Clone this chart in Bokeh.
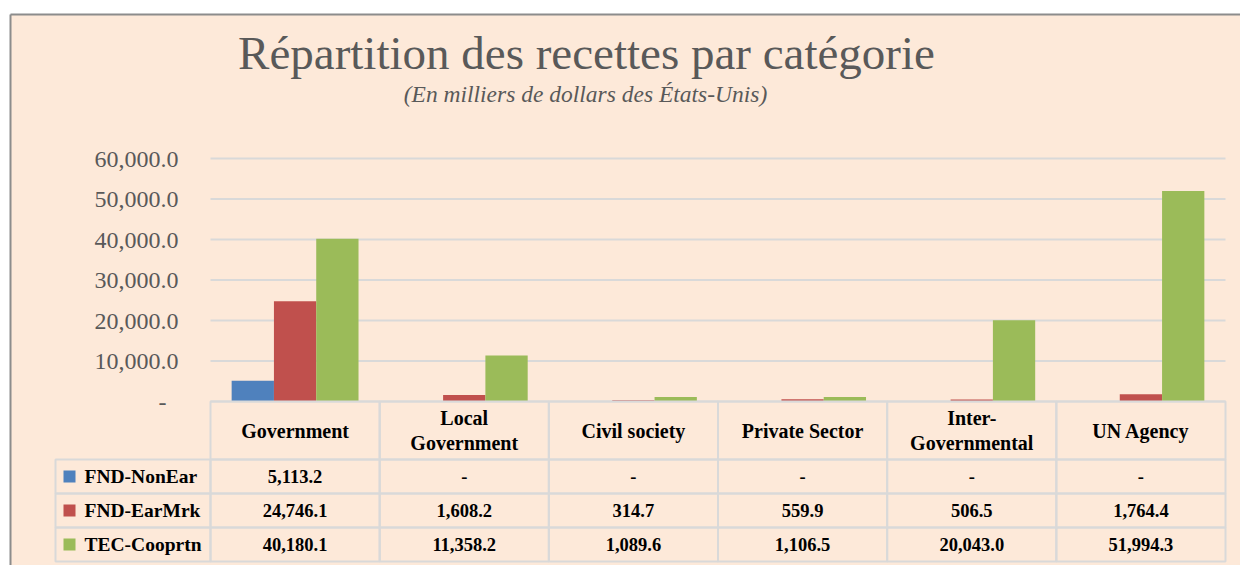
from bokeh.plotting import figure
from bokeh.models import Range1d, FixedTicker, LinearAxis
from bokeh.core.properties import value
from bokeh.embed import file_html
from bokeh.resources import INLINE

# ---------------- data ----------------
categories = ["Government", "Local Government", "Civil society",
              "Private Sector", "Inter-Governmental", "UN Agency"]
category_labels = ["Government", "Local\nGovernment", "Civil society",
                   "Private Sector", "Inter-\nGovernmental", "UN Agency"]
series_names = ["FND-NonEar", "FND-EarMrk", "TEC-Cooprtn"]
fnd_nonear = [5113.2, 0.0, 0.0, 0.0, 0.0, 0.0]
fnd_earmrk = [24746.1, 1608.2, 314.7, 559.9, 506.5, 1764.4]
tec_cooprtn = [40180.1, 11358.2, 1089.6, 1106.5, 20043.0, 51994.3]
y_ticks = [0, 10000, 20000, 30000, 40000, 50000, 60000]
y_tick_labels = ["-\u2007", "10,000.0", "20,000.0", "30,000.0",
                 "40,000.0", "50,000.0", "60,000.0"]
title_text = "Répartition des recettes par catégorie"
subtitle_text = "(En milliers de dollars des États-Unis)"

# ---------------- styles ----------------
series_values = [fnd_nonear, fnd_earmrk, tec_cooprtn]
colors = ["#4F81BD", "#C0504D", "#9BBB59"]
PEACH = "#FDE9D9"
GRID = "#D9D9D9"
BORDER = "#8C8C8C"
GREY_TXT = "#595959"
FONT = "Liberation Serif"

# ---------------- layout (page pixels) ----------------
FIG_W, FIG_H = 1240, 565
FRAME_L, FRAME_T = 10, 14
FRAME_R, FRAME_B = FIG_W, FIG_H
COL0 = 210.0
COLW = (1225.0 - COL0) / len(categories)
ZERO_Y, TOP_Y = 401.0, 158.0
U = 60000.0 / (ZERO_Y - TOP_Y)
ROW_EDGES = [401.0, 459.0, 493.0, 527.0, 561.0]
LEG_L = 55.0


def dx(px):
    return (px - COL0) / COLW - 0.5


def dy(py):
    return (ZERO_Y - py) * U


p = figure(width=FIG_W, height=FIG_H,
           x_range=Range1d(dx(FRAME_L), dx(FRAME_R)),
           y_range=Range1d(dy(FRAME_B), dy(FRAME_T)),
           output_backend="svg", toolbar_location=None,
           x_axis_location=None,
           min_border_left=FRAME_L, min_border_top=FRAME_T,
           min_border_right=0, min_border_bottom=0,
           background_fill_color=PEACH, border_fill_color="white",
           outline_line_color=None)
p.grid.visible = False

# value axis drawn at the left edge of the category area
ax = p.yaxis[0]
ax.ticker = FixedTicker(ticks=y_ticks)
ax.major_label_overrides = {t: l for t, l in zip(y_ticks, y_tick_labels)}
ax.fixed_location = -0.5
ax.major_label_standoff = int(COL0 - 178)
ax.axis_line_color = None
ax.major_tick_line_color = None
ax.minor_tick_line_color = None
ax.major_tick_out = 0
ax.minor_tick_out = 0
ax.major_label_text_font = FONT
ax.major_label_text_font_size = "24px"
ax.major_label_text_color = GREY_TXT

# panel border (left and top) as plain axis lines
for loc in ("left", "above"):
    b = LinearAxis(ticker=FixedTicker(ticks=[]), axis_line_color=BORDER,
                   axis_line_width=2, major_tick_line_color=None,
                   minor_tick_line_color=None, major_label_text_color=None,
                   major_label_standoff=0, major_tick_out=0, minor_tick_out=0,
                   major_tick_in=0, minor_tick_in=0)
    p.add_layout(b, loc)

n = len(categories)
xs = list(range(n))

# gridlines
p.segment(x0=[-0.5] * len(y_ticks), x1=[n - 0.5] * len(y_ticks),
          y0=y_ticks, y1=y_ticks, line_color=GRID, line_width=2)

# bars
offsets = [-0.25, 0.0, 0.25]
for vals, col, off in zip(series_values, colors, offsets):
    p.vbar(x=[i + off for i in xs], top=vals, bottom=0, width=0.25,
           fill_color=col, line_color=None)

# title / subtitle (anchored at their vertical centre)
p.text(x=[dx(586)], y=[dy(52)], text=[title_text], text_align="center",
       text_baseline="middle", text_font=value(FONT),
       text_font_size="47px", text_color=GREY_TXT)
p.text(x=[dx(585)], y=[dy(93)], text=[subtitle_text], text_align="center",
       text_baseline="middle", text_font=value(FONT),
       text_font_style="italic", text_font_size="23.5px", text_color=GREY_TXT)

# ---------------- data table ----------------
hdr_top, hdr_bot = dy(ROW_EDGES[0]), dy(ROW_EDGES[1])
p.quad(left=[i - 0.5 for i in xs], right=[i + 0.5 for i in xs],
       top=[hdr_top] * n, bottom=[hdr_bot] * n,
       fill_color=None, line_color=GRID, line_width=2)
p.text(x=xs, y=[(hdr_top + hdr_bot) / 2] * n, text=category_labels,
       text_align="center", text_baseline="middle", text_font=value(FONT),
       text_font_style="bold", text_font_size="20px", text_color="black",
       text_line_height=1.15)

for r, (name, vals, col) in enumerate(zip(series_names, series_values, colors)):
    top, bot = dy(ROW_EDGES[r + 1]), dy(ROW_EDGES[r + 2])
    mid = (top + bot) / 2
    lefts = [dx(LEG_L)] + [i - 0.5 for i in xs]
    rights = [-0.5] + [i + 0.5 for i in xs]
    p.quad(left=lefts, right=rights, top=[top] * (n + 1), bottom=[bot] * (n + 1),
           fill_color=None, line_color=GRID, line_width=2)
    p.scatter(x=[dx(69)], y=[mid], marker="square", size=12,
              fill_color=col, line_color=None)
    p.text(x=[dx(84)], y=[mid], text=[name], text_align="left",
           text_baseline="middle", text_font=value(FONT),
           text_font_style="bold", text_font_size="19.5px", text_color="black")
    labels = [f"{v:,.1f}" if v else "-" for v in vals]
    p.text(x=xs, y=[mid] * n, text=labels, text_align="center",
           text_baseline="middle", text_font=value(FONT),
           text_font_style="bold", text_font_size="18.5px", text_color="black")

open("out.html", "w").write(file_html(p, INLINE))
